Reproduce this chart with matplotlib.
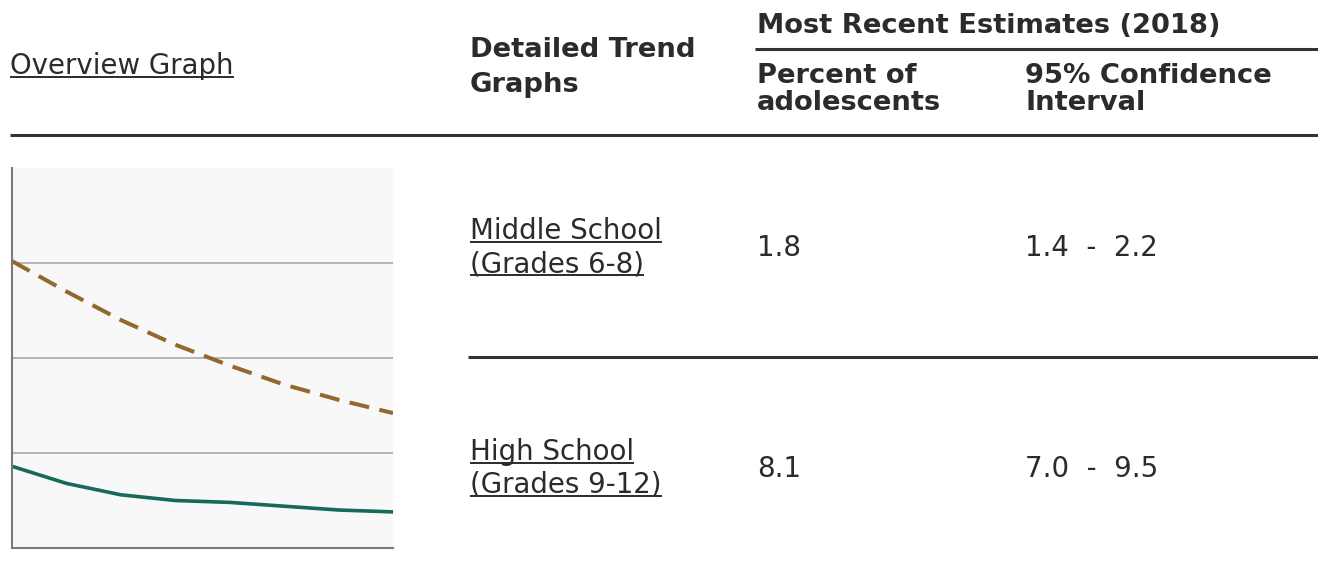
import matplotlib
matplotlib.use("Agg")
import matplotlib.pyplot as plt

# overview graph data
years = [2011, 2012, 2013, 2014, 2015, 2016, 2017, 2018]
middle_school = [4.3, 3.4, 2.8, 2.5, 2.4, 2.2, 2.0, 1.9]
high_school = [15.1, 13.5, 12.0, 10.7, 9.6, 8.6, 7.8, 7.1]

# table contents
row_links = [["Middle School", "(Grades 6-8)"], ["High School", "(Grades 9-12)"]]
row_percent = ["1.8", "8.1"]
row_ci = ["1.4 - 2.2", "7.0 - 9.5"]

W, H = 1318, 579
fig = plt.figure(figsize=(W / 100, H / 100), dpi=100)
fig.patch.set_facecolor("white")

# overlay in pixel coords for table text
tab = fig.add_axes([0, 0, 1, 1])
tab.set_xlim(0, W)
tab.set_ylim(H, 0)
tab.axis("off")

txt = "#2b2b2b"
fs_norm = 19.9
fs_bold = 19.7

links = []

def put(x, y, s, bold=False, link=False):
    t = tab.text(x, y, s, fontsize=fs_bold if bold else fs_norm,
                 fontweight="bold" if bold else "normal", color=txt,
                 va="baseline", ha="left", family="DejaVu Sans")
    if link:
        links.append((t, y))
    return t

put(10, 74, "Overview Graph", link=True)
put(470, 57, "Detailed Trend", bold=True)
put(470, 92, "Graphs", bold=True)
put(757, 33, "Most Recent Estimates (2018)", bold=True)
put(757, 83, "Percent of", bold=True)
put(757, 110, "adolescents", bold=True)
put(1025, 83, "95% Confidence", bold=True)
put(1025, 110, "Interval", bold=True)

row_base = [239, 460]
for i in range(2):
    b = row_base[i]
    put(470, b, row_links[i][0], link=True)
    put(470, b + 33, row_links[i][1], link=True)
    put(757, b + 17, row_percent[i])
    put(1025, b + 17, row_ci[i].replace(" ", "  "))

# table rules
tab.plot([755, W], [49, 49], color="#333333", lw=2.2, solid_capstyle="butt")
tab.plot([10, W], [135, 135], color="#333333", lw=2.2, solid_capstyle="butt")
tab.plot([468, W], [357, 357], color="#333333", lw=2.2, solid_capstyle="butt")

# overview chart
ax = fig.add_axes([12 / W, (H - 548) / H, 381 / W, 380 / H])
ax.set_facecolor("#f8f8f8")
ax.plot(years, high_school, color="#93682c", lw=2.9, dashes=(5, 2.6),
        solid_capstyle="butt", dash_capstyle="butt")
ax.plot(years, middle_school, color="#17695a", lw=2.6)
ax.set_xlim(2011, 2018)
ax.set_ylim(0, 20)
ax.set_yticks([5, 10, 15])
ax.set_xticks([])
ax.yaxis.grid(True, color="#b5b5b5", lw=1.4)
ax.set_axisbelow(True)
ax.tick_params(left=False, labelleft=False)
for s in ["top", "right"]:
    ax.spines[s].set_visible(False)
for s in ["left", "bottom"]:
    ax.spines[s].set_color("#7a7a7a")
    ax.spines[s].set_linewidth(1.5)

# underline the link texts
fig.canvas.draw()
r = fig.canvas.get_renderer()
for t, y in links:
    bb = t.get_window_extent(renderer=r)
    tab.plot([bb.x0, bb.x1], [y + 3, y + 3], color=txt, lw=1.4,
             solid_capstyle="butt")

fig.savefig("out.png", dpi=100)
